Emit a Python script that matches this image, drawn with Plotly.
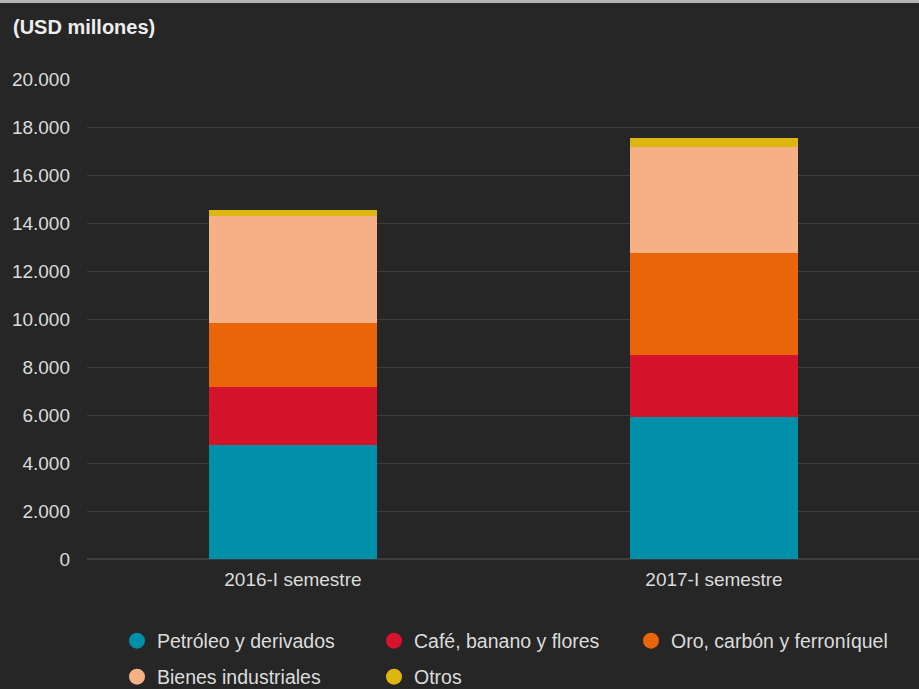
import plotly.graph_objects as go

categories = ["2016-I semestre", "2017-I semestre"]
series_names = ["Petróleo y derivados", "Café, banano y flores", "Oro, carbón y ferroníquel",
                "Bienes industriales", "Otros"]
petroleo = [4750, 5900]
cafe = [2420, 2600]
oro = [2660, 4240]
bienes = [4460, 4440]
otros = [250, 350]
series_values = [petroleo, cafe, oro, bienes, otros]
colors = ["#008FA8", "#D5132B", "#EA6508", "#F5B185", "#DDB70F"]
y_ticks = [0, 2000, 4000, 6000, 8000, 10000, 12000, 14000, 16000, 18000, 20000]
legend_rows = ["legend", "legend", "legend", "legend2", "legend2"]

fig = go.Figure()
for name, vals, col in zip(series_names, series_values, colors):
    fig.add_trace(go.Bar(x=categories, y=vals, name=name, marker_color=col, width=0.4,
                         marker_line_width=0, showlegend=False, hoverinfo="y+name"))
for name, col, lg in zip(series_names, colors, legend_rows):
    fig.add_trace(go.Scatter(x=[categories[0]], y=[None], mode="markers", name=name,
                             marker=dict(color=col, size=16, symbol="circle"),
                             showlegend=True, legend=lg, hoverinfo="skip"))

W, H = 919, 689
PW, PH, L, T = 832, 480, 87, 79
legend_common = dict(orientation="h", xanchor="left", yanchor="middle",
                     xref="container", yref="container",
                     entrywidth=212, entrywidthmode="pixels", traceorder="normal",
                     font=dict(size=19.5, color="#dcdcdc", family="Liberation Sans, Arial, sans-serif"),
                     bgcolor="rgba(0,0,0,0)", itemsizing="trace")

fig.update_layout(
    width=W, height=H,
    barmode="stack",
    paper_bgcolor="#262626", plot_bgcolor="#262626",
    margin=dict(l=L, r=0, t=T, b=130, autoexpand=False),
    font=dict(family="Liberation Sans, Arial, sans-serif", color="#dcdcdc", size=19),
    separators=",.",
    xaxis=dict(showgrid=False, showline=False, zeroline=False, ticks="",
               ticklabelstandoff=7, automargin=False,
               tickfont=dict(size=19, color="#dcdcdc"), range=[-0.489, 1.487]),
    yaxis=dict(range=[0, 20000], tickvals=y_ticks, tickformat=",d", automargin=False,
               gridcolor="#3d3d3d", gridwidth=1, zeroline=True, zerolinecolor="#3d3d3d",
               showline=False, ticks="", ticklabelstandoff=16,
               tickfont=dict(size=19, color="#dcdcdc")),
    legend=dict(x=117 / W, y=1 - 641 / H, **legend_common),
    legend2=dict(x=117 / W, y=1 - 677 / H, **legend_common),
    annotations=[dict(text="<b>(USD millones)</b>", xref="paper", yref="paper",
                      x=(11 - L) / PW, y=1 + (T - 27) / PH, xanchor="left", yanchor="middle",
                      showarrow=False, font=dict(size=20, color="#eeeeee"))],
    shapes=[dict(type="rect", xref="paper", yref="paper",
                 x0=-L / PW, x1=1, y0=1 + (T - 3) / PH, y1=1 + T / PH,
                 fillcolor="#b4b4b4", line_width=0, layer="above")],
)

fig.write_html("out.html")
